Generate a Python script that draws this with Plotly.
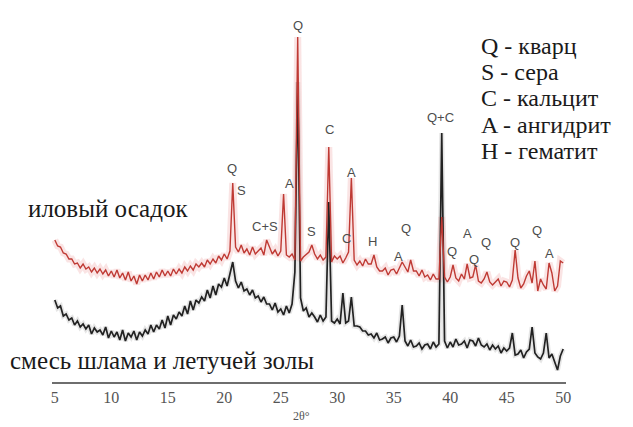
import numpy as np
import plotly.graph_objects as go

# 2θ scan grid, degrees (0.25° step from 5 to 50)
two_theta = np.arange(5.0, 50.0001, 0.25)

# Sewage sludge pattern (upper curve), a.u. with vertical offset
sludge = [
    142, 136, 135, 129,   128, 123, 123, 118,   119, 114, 118, 113,
    115, 110, 114, 109,   113, 108, 112, 106,   111, 105, 112, 104,
    109, 102, 110, 101,   106, 98, 107, 101,    107, 102, 109, 103,
    110, 105, 112, 106,   111, 106, 113, 108,   113, 109, 115, 111,
    116, 112, 118, 115,   119, 115, 122, 118,   123, 119, 126, 122,
    128, 123, 131, 199,   135, 130, 137, 129,   133, 127, 135, 128,
    131, 134, 127, 142,   135, 128, 132, 126,   131, 188, 127, 125,
    128, 122, 345, 121,   125, 128, 130, 137,   128, 123, 127, 122,
    125, 235, 120, 126,   123, 126, 119, 124,   130, 204, 122, 117,
    121, 116, 123, 118,   118, 127, 115, 111,   111, 114, 107, 112,
    113, 108, 114, 120,   115, 110, 122, 111,   111, 106, 112, 105,
    107, 102, 108, 103,   103, 165, 105, 100,   105, 117, 104, 101,
    108, 103, 118, 104,   105, 117, 101, 99,    103, 110, 100, 97,
    100, 103, 96, 101,    100, 95, 102, 132,    104, 94, 98, 106,
    111, 99, 121, 91,     103, 97, 93, 119,     109, 91, 96, 121,
    119,
]

# Sludge + fly ash mixture pattern (lower curve), a.u.
mixture = [
    82, 74, 76, 66,       68, 62, 64, 57,       61, 55, 58, 53,
    57, 48, 54, 50,       52, 47, 55, 44,       51, 45, 50, 42,
    52, 41, 49, 45,       51, 42, 50, 46,       52, 48, 57, 50,
    57, 53, 62, 54,       66, 57, 67, 63,       70, 66, 76, 68,
    81, 72, 82, 79,       85, 81, 92, 84,       96, 87, 98, 95,
    104, 96, 108, 120,    101, 94, 100, 91,     93, 87, 92, 84,
    86, 80, 85, 78,       78, 72, 79, 70,       73, 67, 76, 69,
    78, 110, 300, 84,     71, 74, 65, 69,       65, 60, 67, 61,
    65, 180, 61, 59,      63, 58, 89, 59,       61, 85, 56, 56,
    55, 51, 51, 47,       48, 44, 49, 42,       43, 45, 39, 44,
    45, 40, 46, 77,       41, 36, 42, 35,       36, 39, 33, 37,
    38, 33, 40, 35,       38, 249, 41, 34,      40, 35, 43, 37,
    38, 41, 34, 42,       41, 36, 44, 37,       35, 38, 32, 37,
    33, 36, 29, 34,       31, 34, 49, 27,       28, 32, 24, 30,
    33, 55, 29, 25,       23, 29, 49, 24,       28, 19, 12, 26,
    33,
]

# Phase labels above the sludge peaks: text, 2θ, height (a.u.)
peak_text = ["Q", "S", "C+S", "A", "Q", "S", "C", "A", "C", "H",
             "Q", "A", "Q+C", "Q", "A", "Q", "Q", "Q", "Q", "A"]
peak_2theta = [20.68, 21.5, 23.6, 25.73, 26.53, 27.7, 29.27, 31.3, 30.86, 33.08,
               36.1, 35.38, 39.1, 40.16, 41.5, 42.1, 43.17, 45.74, 47.7, 48.83]
peak_height = [214, 192, 156, 199, 357, 151, 253, 210, 144, 141,
               154, 126, 265, 131, 149, 123, 140, 140, 152, 129]

tick_values = [5, 10, 15, 20, 25, 30, 35, 40, 45, 50]

phase_legend = ["Q - кварц", "S - сера", "C - кальцит", "A - ангидрит", "H - гематит"]
sample_upper = "иловый осадок"
sample_lower = "смесь шлама и летучей золы"

W, H = 633, 427
L, R, T, B = 52, 67, 20, 45
SERIF = "Liberation Serif"


def px_x(px):
    return (px - L) / (W - L - R)


def px_y(py):
    return (H - B - py) / (H - T - B)


fig = go.Figure()

# soft halos around both curves
fig.add_trace(go.Scatter(x=two_theta, y=mixture, mode="lines",
                         line=dict(color="rgba(90,90,90,0.15)", width=5),
                         hoverinfo="skip", showlegend=False))
fig.add_trace(go.Scatter(x=two_theta, y=sludge, mode="lines",
                         line=dict(color="rgba(230,120,120,0.2)", width=7),
                         hoverinfo="skip", showlegend=False))
fig.add_trace(go.Scatter(x=two_theta, y=mixture, mode="lines",
                         line=dict(color="#222222", width=1.7),
                         name="mixture", showlegend=False))
fig.add_trace(go.Scatter(x=two_theta, y=sludge, mode="lines",
                         line=dict(color="#bf3a34", width=1.4),
                         name="sludge", showlegend=False))

annotations = []
for t, x, y in zip(peak_text, peak_2theta, peak_height):
    annotations.append(dict(x=x, y=y, xref="x", yref="y", text=t, showarrow=False,
                            xanchor="center", yanchor="middle",
                            font=dict(family="Liberation Sans", size=13, color="#4d4d4d")))

for i, t in enumerate(phase_legend):
    annotations.append(dict(x=px_x(479), y=px_y(46 + 26.2 * i), xref="paper", yref="paper",
                            text=t, showarrow=False, xanchor="left", yanchor="middle",
                            font=dict(family=SERIF, size=24, color="#1a1a1a")))

annotations.append(dict(x=px_x(26), y=px_y(208), xref="paper", yref="paper",
                        text=sample_upper, showarrow=False, xanchor="left", yanchor="middle",
                        font=dict(family=SERIF, size=25, color="#1a1a1a")))
annotations.append(dict(x=px_x(8), y=px_y(360), xref="paper", yref="paper",
                        text=sample_lower, showarrow=False, xanchor="left", yanchor="middle",
                        font=dict(family=SERIF, size=25, color="#1a1a1a")))
annotations.append(dict(x=px_x(301), y=px_y(416), xref="paper", yref="paper",
                        text="2θ°", showarrow=False, xanchor="center", yanchor="middle",
                        font=dict(family=SERIF, size=12, color="#555")))

fig.update_layout(
    width=W, height=H,
    margin=dict(l=L, r=R, t=T, b=B),
    paper_bgcolor="white", plot_bgcolor="white",
    annotations=annotations,
    xaxis=dict(range=[4.75, 50.25], tickvals=tick_values, ticks="",
               showline=True, linecolor="#6e6e6e", linewidth=1.5,
               showgrid=False, zeroline=False,
               tickfont=dict(family=SERIF, size=16, color="#555")),
    yaxis=dict(range=[0, 362], visible=False),
)

fig.write_html("out.html")
